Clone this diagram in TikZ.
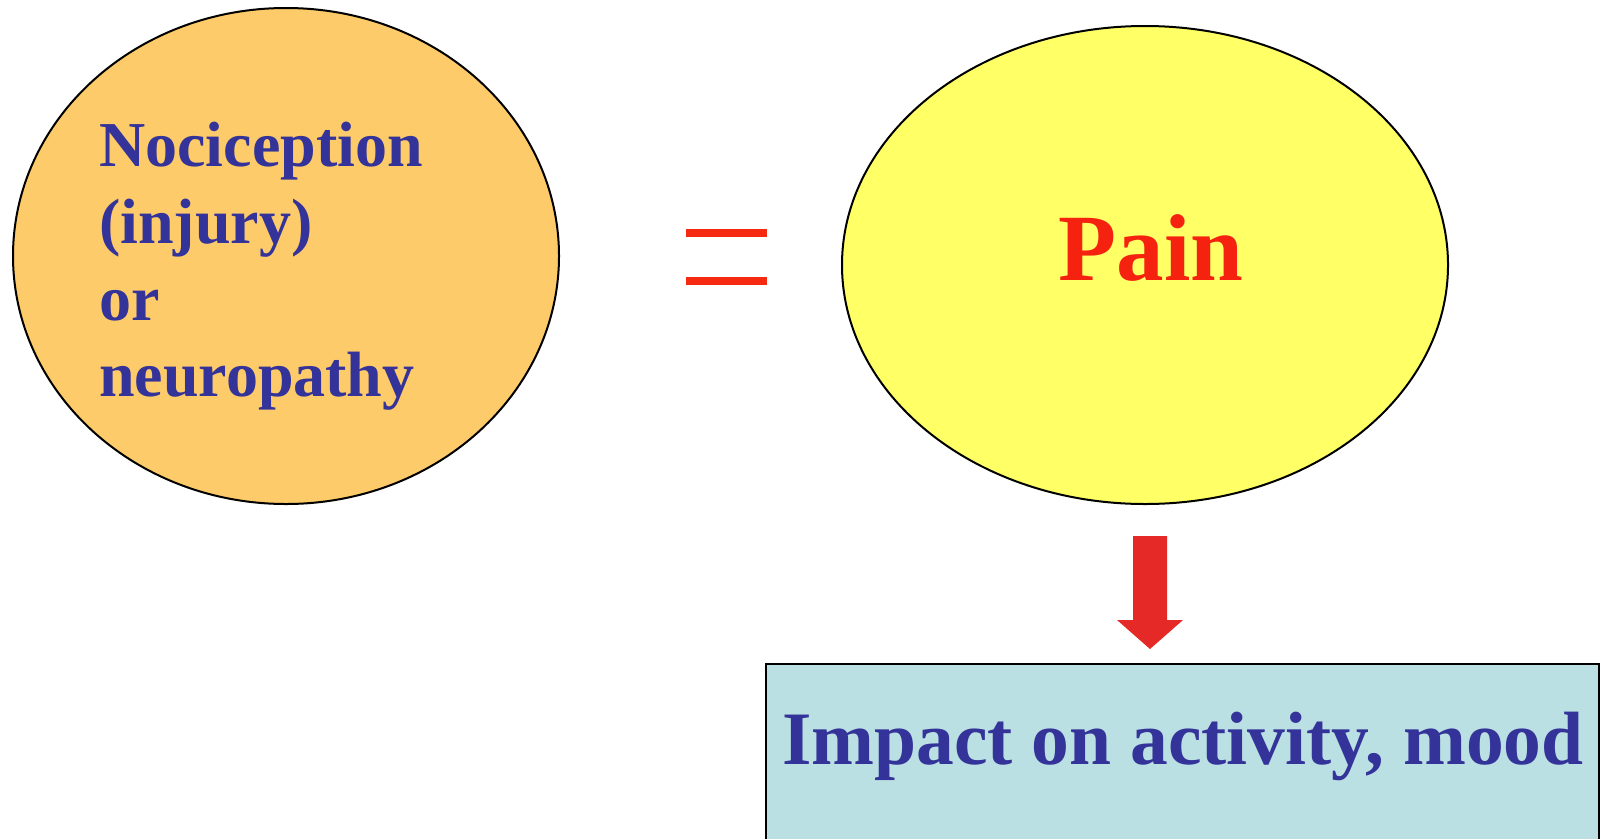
\documentclass[tikz,border=0pt]{standalone}
\usepackage{fontspec}
\setmainfont{Liberation Serif}
\usetikzlibrary{shapes.geometric}
\definecolor{orangefill}{HTML}{FDCB6A}
\definecolor{yellowfill}{HTML}{FFFF66}
\definecolor{textblue}{HTML}{333399}
\definecolor{painred}{HTML}{F52210}
\definecolor{eqred}{HTML}{F52A10}
\definecolor{arrowred}{HTML}{E52926}
\definecolor{boxfill}{HTML}{BBE0E3}
\tikzset{
  blob/.style={ellipse, draw=black, line width=2pt, inner sep=0pt},
  lbl/.style={inner sep=0pt, text=textblue, font=\bfseries},
}
\begin{document}
\begin{tikzpicture}[x=1pt,y=-1pt]
\useasboundingbox (0,0) rectangle (1602,838);
% ellipses
\node[blob, fill=orangefill, minimum width=546pt, minimum height=496pt] (noci) at (286,256) {};
\node[blob, fill=yellowfill, minimum width=606pt, minimum height=478pt] (pain) at (1145,265) {};
% texts
\node[lbl, anchor=base west, align=left, font=\bfseries\fontsize{64}{76.7}\selectfont] (nocitext) at (99,396.7) {Nociception\\(injury)\\or\\neuropathy};
\node[inner sep=0pt, anchor=base, text=painred, font=\bfseries\fontsize{95}{100}\selectfont] (paintext) at (1151,280.7) {Pain};
% equals sign
\fill[eqred] (686,229) rectangle (767,237);
\fill[eqred] (686,277) rectangle (767,285);
% impact box
\draw[fill=boxfill, draw=black, line width=1.8pt] (766,664) rectangle (1599,850);
\node[lbl, anchor=base, font=\bfseries\fontsize{75.5}{80}\selectfont] (impact) at (1183,764) {Impact on activity, mood};
% block arrow
\fill[arrowred] (1133,536) -- (1167,536) -- (1167,620) -- (1183,620) -- (1150,649) -- (1117,620) -- (1133,620) -- cycle;
\end{tikzpicture}
\end{document}
